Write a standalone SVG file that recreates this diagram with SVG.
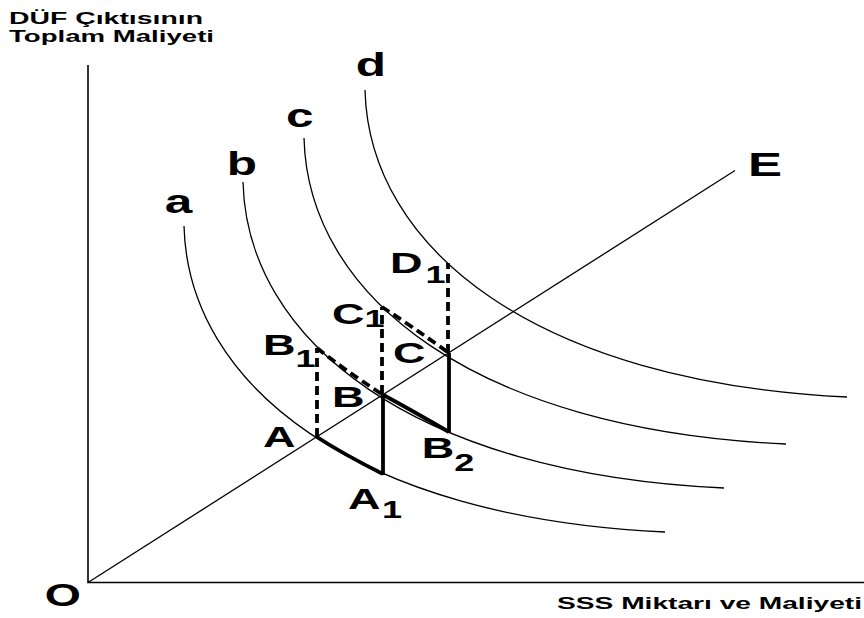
<svg xmlns="http://www.w3.org/2000/svg" width="864" height="618" viewBox="0 0 864 618">
<style>
.t{font-family:"Liberation Sans",Arial,sans-serif;font-weight:bold;fill:#000}
.thin{fill:none;stroke:#000;stroke-width:1.3}
.axis{fill:none;stroke:#000;stroke-width:1.6}
.thick{fill:none;stroke:#000;stroke-width:3.8}
.dash{fill:none;stroke:#000;stroke-width:3.8;stroke-dasharray:9 5}
</style>
<rect width="864" height="618" fill="#fff"/>
<g id="axes">
<path class="axis" d="M88,65 V582.5 H864"/>
<path class="thin" d="M88,582.5 L735,170.5"/>
</g>
<g id="curves">
<path id="curve-a" class="thin" d="M184,226 C188,385 355,518 665,532"/>
<path id="curve-b" class="thin" d="M243,182 C247,341 414,474 724,488"/>
<path id="curve-c" class="thin" d="M304,138 C308,297 475,430 786,444"/>
<path id="curve-d" class="thin" d="M365,90 C369,249 536,382 847,397"/>
</g>
<g id="connectors">
<path class="thick" d="M317,437 Q343,454 383,474"/>
<path class="thick" d="M383,475 V394"/>
<path class="thick" d="M382.5,394.5 Q413,411 449,432"/>
<path class="thick" d="M449,433 V353"/>
<path class="dash" d="M317,437 V348"/>
<path class="dash" d="M317,348 Q343,369 382.5,394.5"/>
<path class="dash" d="M382,394 V307"/>
<path class="dash" d="M382,307 Q413,327 449,353"/>
<path class="dash" d="M448,353 V263"/>
</g>
<g id="labels">
<text class="t" font-size="16" x="9" y="23.5" textLength="194" lengthAdjust="spacingAndGlyphs">DÜF Çıktısının</text>
<text class="t" font-size="16" x="9" y="41.7" textLength="205" lengthAdjust="spacingAndGlyphs">Toplam Maliyeti</text>
<text class="t" font-size="16" x="557" y="609.3" textLength="305" lengthAdjust="spacingAndGlyphs">SSS Miktarı ve Maliyeti</text>
<text class="t" font-size="31" transform="translate(44.7,605.5) scale(1.5,1)">O</text>
<text class="t" font-size="34" transform="translate(748,176) scale(1.5,1)">E</text>
<text class="t" font-size="33" transform="translate(164.7,213.3) scale(1.5,1)">a</text>
<text class="t" font-size="33" transform="translate(226.7,175) scale(1.5,1)">b</text>
<text class="t" font-size="33" transform="translate(286,127.3) scale(1.5,1)">c</text>
<text class="t" font-size="33" transform="translate(355.7,76) scale(1.5,1)">d</text>
<text class="t" font-size="30" transform="translate(263,447) scale(1.5,1)">A</text>
<text class="t" font-size="30" transform="translate(263,355) scale(1.5,1)">B<tspan font-size="24" dy="11.7">1</tspan></text>
<text class="t" font-size="30" transform="translate(332,407) scale(1.5,1)">B</text>
<text class="t" font-size="30" transform="translate(332,324) scale(1.5,1)">C<tspan font-size="24" dy="3">1</tspan></text>
<text class="t" font-size="30" transform="translate(393,363) scale(1.5,1)">C</text>
<text class="t" font-size="30" transform="translate(390,272.7) scale(1.5,1)">D<tspan font-size="24" dx="2" dy="10.6">1</tspan></text>
<text class="t" font-size="30" transform="translate(348,509.3) scale(1.5,1)">A<tspan font-size="24" dx="1" dy="9">1</tspan></text>
<text class="t" font-size="30" transform="translate(421.7,458.3) scale(1.5,1)">B<tspan font-size="24" dy="12.4">2</tspan></text>
</g>
</svg>
